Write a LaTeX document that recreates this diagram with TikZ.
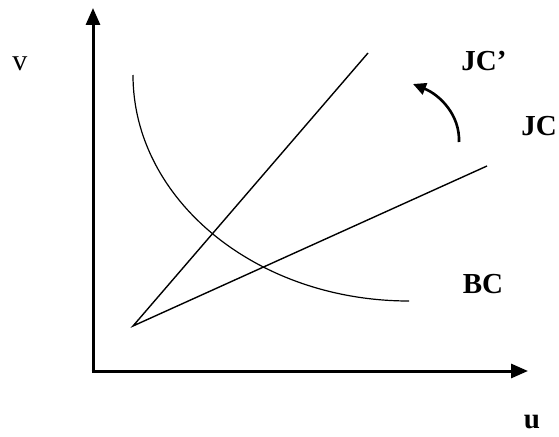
\documentclass[tikz,border=0pt]{standalone}
\usepackage{fontspec}
\setmainfont{Liberation Serif}
\usetikzlibrary{arrows.meta}
\begin{document}
\begin{tikzpicture}[x=1pt,y=-1pt,
  lbl/.style={font=\fontsize{29}{31}\selectfont\bfseries, inner sep=0pt},
  plainlbl/.style={font=\fontsize{30}{32}\selectfont, inner sep=0pt},
  axis/.style={line width=3pt, -{Triangle[length=17pt,width=14pt]}},
  thin line/.style={line width=1.4pt},
  shiftarrow/.style={line width=2.6pt, -{Triangle[length=13pt,width=12pt]}}]
\useasboundingbox (0,0) rectangle (559,436);
\coordinate (O) at (93,371);
\coordinate (ytip) at (93,8);
\coordinate (xtip) at (528,371);
\coordinate (P) at (133,326);
\coordinate (Jp) at (368,53);
\coordinate (J) at (487,166);
\coordinate (Bs) at (133,75);
\coordinate (As) at (459,142);
\coordinate (Ae) at (413,84);
\draw[axis] (O) -- (ytip);
\draw[axis] ([xshift=-1.5pt]O) -- (xtip);
\draw[thin line] (Jp) -- (P) -- (J);
\draw[line width=1.2pt] (Bs) arc[start angle=180, end angle=270, x radius=276pt, y radius=226pt];
\draw[shiftarrow] (As) .. controls (460,115) and (440,95) .. (Ae);
\node[plainlbl] (v) at (20,64) {v};
\node[lbl] (jcp) at (484,61) {JC’};
\node[lbl] (jc) at (539,126) {JC};
\node[lbl] (bc) at (483,284) {BC};
\node[lbl] (u) at (532,422) {u};
\end{tikzpicture}
\end{document}
